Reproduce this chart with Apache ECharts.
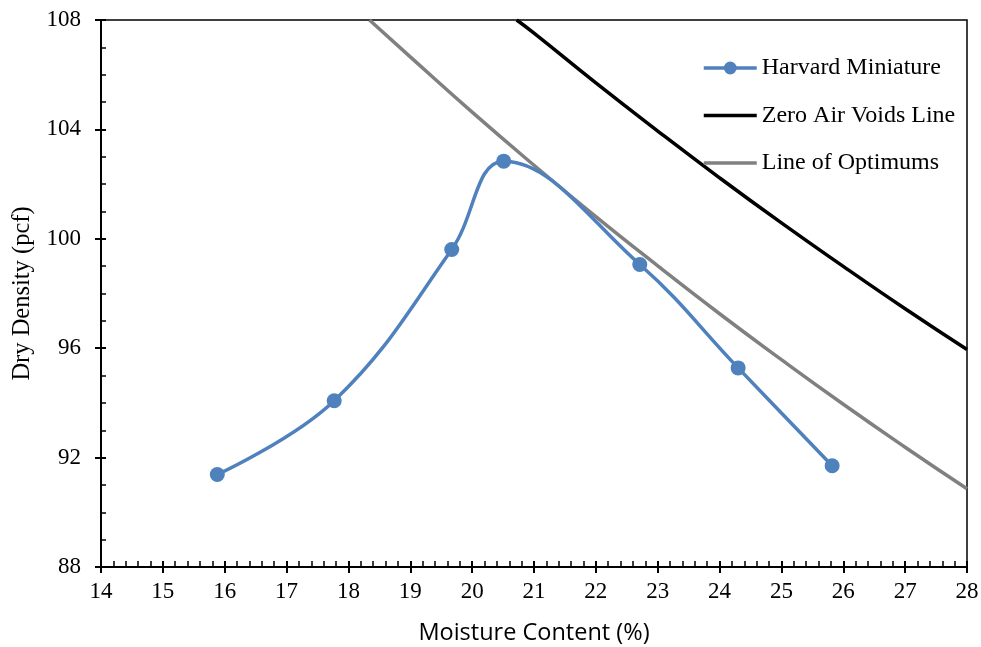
<!DOCTYPE html>
<html>
<head>
<meta charset="utf-8">
<script src="https://cdn.jsdelivr.net/npm/echarts@6/dist/echarts.min.js"></script>
<style>html,body{margin:0;padding:0;background:#fff;}#c{width:981px;height:647px;}</style>
</head>
<body>
<div id="c"></div>
<script>
// Harvard Miniature compaction points (moisture %, dry density pcf)
const harvardMoisture = [15.88, 17.77, 19.67, 20.51, 22.71, 24.30, 25.82];
const harvardDensity  = [91.38, 94.08, 99.61, 102.84, 99.06, 95.28, 91.70];

// Zero Air Voids line
const zavMoisture = [20.72, 21, 22, 23, 24, 25, 26, 27, 28];
const zavDensity  = [108.0, 107.52, 105.70, 103.94, 102.23, 100.58, 98.99, 97.44, 95.95];

// Line of Optimums
const looMoisture = [18.34, 19, 20, 21, 22, 23, 24, 25, 26, 27, 28];
const looDensity  = [108.0, 106.65, 104.63, 102.69, 100.81, 99.01, 97.26, 95.58, 93.95, 92.38, 90.86];

const seriesNames = ['Harvard Miniature', 'Zero Air Voids Line', 'Line of Optimums'];
const xTitle = 'Moisture Content (%)';
const yTitle = 'Dry Density (pcf)';

const pairs = (xs, ys) => xs.map((x, i) => [x, ys[i]]);
const serif = '"Liberation Serif", "Times New Roman", serif';
const sans = '"Open Sans", "Liberation Sans", sans-serif';

const chart = echarts.init(document.getElementById('c'));
const baseX = {
  type: 'value', min: 14, max: 28, interval: 1, position: 'bottom', splitLine: {show: false}
};
const baseY = {
  type: 'value', min: 88, max: 108, interval: 4, position: 'left', splitLine: {show: false}
};
chart.setOption({
  animation: false,
  grid: {left: 101, right: 14, top: 20, bottom: 80, containLabel: false, outerBoundsMode: 'none',
         show: true, borderColor: '#000', borderWidth: 1.5, backgroundColor: 'transparent'},
  legend: {
    orient: 'vertical', left: 697, top: 51, itemGap: 23.5, itemWidth: 53, itemHeight: 16,
    data: [
      {name: seriesNames[0], lineStyle: {width: 3.5}},
      {name: seriesNames[1], itemStyle: {opacity: 0}, lineStyle: {width: 3.5}},
      {name: seriesNames[2], itemStyle: {opacity: 0}, lineStyle: {width: 3.5}}
    ],
    textStyle: {fontFamily: serif, fontSize: 24, color: '#000'}
  },
  xAxis: [
    Object.assign({}, baseX, {
      name: xTitle, nameLocation: 'middle', nameGap: 54,
      nameTextStyle: {fontFamily: sans, fontSize: 23.5, color: '#000'},
      axisLine: {show: true, onZero: false, lineStyle: {color: '#000', width: 2}},
      axisTick: {show: true, inside: true, length: 6, lineStyle: {color: '#000', width: 2}},
      minorTick: {show: true, splitNumber: 5, length: 6, lineStyle: {color: '#000', width: 1.5}},
      axisLabel: {fontFamily: serif, fontSize: 23, color: '#000', margin: 13}
    }),
    Object.assign({}, baseX, {
      axisLine: {show: false},
      axisTick: {show: true, inside: false, length: 6, lineStyle: {color: '#000', width: 2}},
      axisLabel: {show: false}
    })
  ],
  yAxis: [
    Object.assign({}, baseY, {
      name: yTitle, nameLocation: 'middle', nameGap: 66,
      nameTextStyle: {fontFamily: serif, fontSize: 24.5, color: '#000'},
      axisLine: {show: true, onZero: false, lineStyle: {color: '#000', width: 2}},
      axisTick: {show: true, inside: true, length: 5, lineStyle: {color: '#000', width: 2}},
      minorTick: {show: true, splitNumber: 4, length: 5, lineStyle: {color: '#000', width: 1.5}},
      axisLabel: {fontFamily: serif, fontSize: 23, color: '#000', margin: 20}
    }),
    Object.assign({}, baseY, {
      axisLine: {show: false},
      axisTick: {show: true, inside: false, length: 6, lineStyle: {color: '#000', width: 2}},
      axisLabel: {show: false}
    })
  ],
  series: [
    {
      name: seriesNames[0], type: 'line', data: pairs(harvardMoisture, harvardDensity),
      smooth: 0.4, symbol: 'circle', symbolSize: 15,
      itemStyle: {color: '#4F81BD'}, lineStyle: {color: '#4F81BD', width: 3.5}, z: 5
    },
    {
      name: seriesNames[1], type: 'line', data: pairs(zavMoisture, zavDensity),
      smooth: true, showSymbol: false, symbol: 'none',
      itemStyle: {color: '#000'}, lineStyle: {color: '#000', width: 3.5}, z: 3
    },
    {
      name: seriesNames[2], type: 'line', data: pairs(looMoisture, looDensity),
      smooth: true, showSymbol: false, symbol: 'none',
      itemStyle: {color: '#808080'}, lineStyle: {color: '#808080', width: 3.5}, z: 3
    }
  ]
});
</script>
</body>
</html>
